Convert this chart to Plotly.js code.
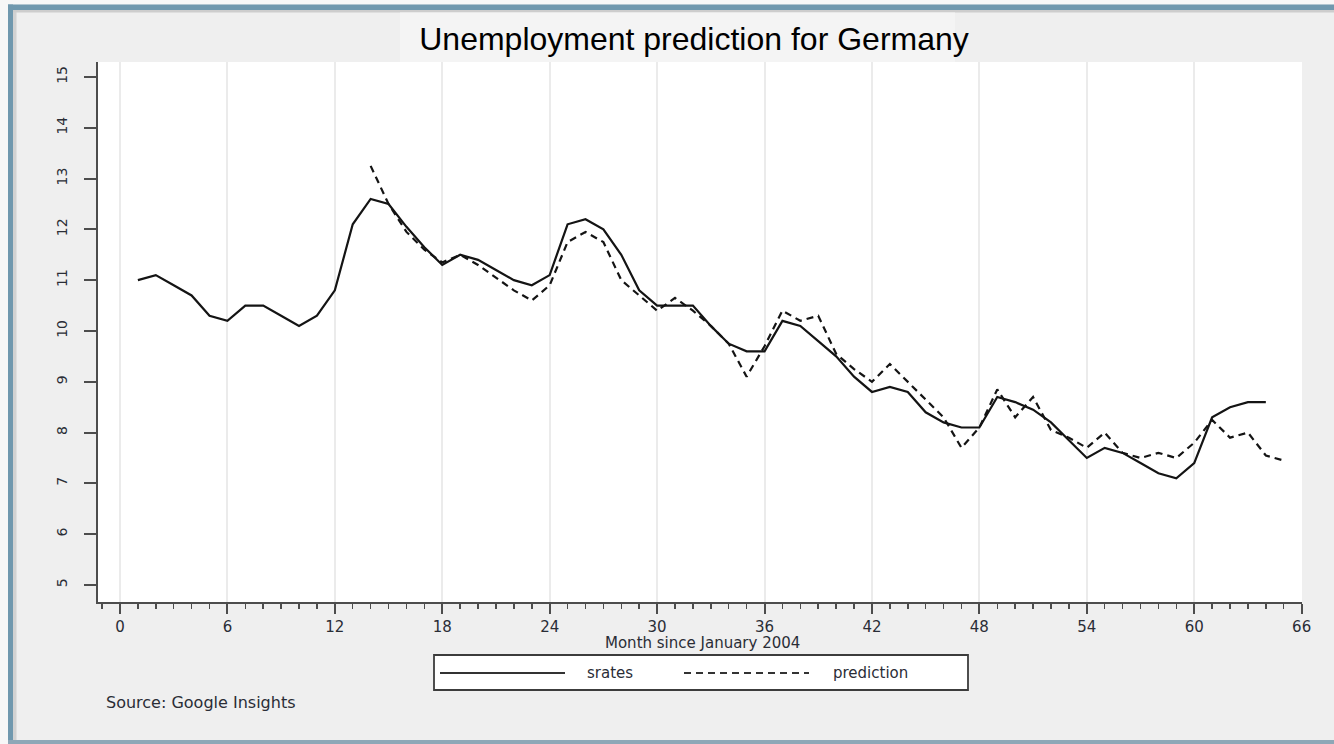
<!DOCTYPE html>
<html>
<head>
<meta charset="utf-8">
<script src="https://cdn.plot.ly/plotly-3.0.1.min.js"></script>
<style>
  html, body { margin: 0; padding: 0; background: #efefef; }
  #chart { width: 1334px; height: 744px; }
</style>
</head>
<body>
<div id="chart"></div>
<script>
// Monthly unemployment rate (srates) and model prediction, months since January 2004
const srateMonths = [1, 2, 3, 4, 5, 6, 7, 8, 9, 10, 11, 12, 13, 14, 15, 16, 17, 18, 19, 20,
  21, 22, 23, 24, 25, 26, 27, 28, 29, 30, 31, 32, 33, 34, 35, 36, 37, 38, 39, 40,
  41, 42, 43, 44, 45, 46, 47, 48, 49, 50, 51, 52, 53, 54, 55, 56, 57, 58, 59, 60,
  61, 62, 63, 64];
const srates = [11.0, 11.1, 10.9, 10.7, 10.3, 10.2, 10.5, 10.5, 10.3, 10.1, 10.3, 10.8, 12.1, 12.6, 12.5, 12.05, 11.65, 11.3, 11.5, 11.4,
  11.2, 11.0, 10.9, 11.1, 12.1, 12.2, 12.0, 11.5, 10.8, 10.5, 10.5, 10.5, 10.1, 9.75, 9.6, 9.6, 10.2, 10.1, 9.8, 9.5,
  9.1, 8.8, 8.9, 8.8, 8.4, 8.2, 8.1, 8.1, 8.7, 8.6, 8.45, 8.2, 7.85, 7.5, 7.7, 7.6, 7.4, 7.2, 7.1, 7.4,
  8.3, 8.5, 8.6, 8.6];

const predMonths = [14, 15, 16, 17, 18, 19, 20, 21, 22, 23, 24, 25, 26, 27, 28, 29, 30, 31, 32, 33,
  34, 35, 36, 37, 38, 39, 40, 41, 42, 43, 44, 45, 46, 47, 48, 49, 50, 51, 52, 53,
  54, 55, 56, 57, 58, 59, 60, 61, 62, 63, 64, 65];
const prediction = [13.25, 12.5, 11.95, 11.6, 11.35, 11.5, 11.3, 11.05, 10.8, 10.6, 10.9, 11.75, 11.95, 11.75, 11.0, 10.7, 10.4, 10.65, 10.4, 10.1,
  9.75, 9.1, 9.7, 10.4, 10.2, 10.3, 9.55, 9.25, 9.0, 9.35, 9.0, 8.65, 8.3, 7.7, 8.1, 8.85, 8.3, 8.7, 8.05, 7.9,
  7.7, 8.0, 7.6, 7.5, 7.6, 7.5, 7.8, 8.25, 7.9, 8.0, 7.55, 7.45];

const xTicks = [0, 6, 12, 18, 24, 30, 36, 42, 48, 54, 60, 66];
const yTicks = [5, 6, 7, 8, 9, 10, 11, 12, 13, 14, 15];
const yGrid = [6, 7, 8, 9, 10, 11, 12, 13, 14];

const seriesNames = ['srates', 'prediction'];
const titleText = 'Unemployment prediction for Germany';
const xTitleText = 'Month since January 2004';
const sourceText = 'Source: Google Insights';

// page geometry (pixels) -> paper fractions
const W = 1334, H = 744;
const M = { l: 98, r: 32, t: 62, b: 142 };
const PW = W - M.l - M.r, PH = H - M.t - M.b;
const px = v => (v - M.l) / PW;
const py = v => (H - M.b - v) / PH;

const ink = '#141414';
const axisCol = '#4d4d4d';
const gridCol = '#ebebeb';
const textCol = '#2a2d36';
const dashPattern = '7px,5px';
const labelFont = { family: 'DejaVu Sans, Verdana, sans-serif', size: 15, color: textCol };

const traces = [
  {
    x: srateMonths, y: srates, type: 'scatter', mode: 'lines', name: seriesNames[0],
    line: { color: ink, width: 2.2 }, hoverinfo: 'x+y'
  },
  {
    x: predMonths, y: prediction, type: 'scatter', mode: 'lines', name: seriesNames[1],
    line: { color: ink, width: 2.2, dash: dashPattern }, hoverinfo: 'x+y'
  }
];

const xRange = [-1.228, 66.02];
const yRange = [4.665, 15.295];

const rectPx = (x0, y0, x1, y1, fill, extra) => Object.assign({
  type: 'rect', xref: 'paper', yref: 'paper',
  x0: px(x0), x1: px(x1), y0: py(y1), y1: py(y0),
  fillcolor: fill, line: { width: 0 }, layer: 'below'
}, extra || {});

const shapes = [
  // window frame
  rectPx(0, 0, 8, H, '#f7f7f7'),
  rectPx(8, 4, 13, H, '#7098ae'),
  rectPx(13, 10, 16.5, H, '#d2d2d2'),
  rectPx(0, 0, W, 4.5, '#f7f7f7'),
  rectPx(8, 4.5, W, 10, '#7098ae'),
  rectPx(13, 10, W, 12.5, '#cdcdcd'),
  rectPx(8, 740, W, H, '#8ea7b7'),
  // title plate
  rectPx(400, 12.5, 955, 62, '#f4f4f4'),
  // legend frame
  rectPx(434, 655, 968, 690, '#ffffff', { line: { color: '#3c3c3c', width: 1.8 }, layer: 'above' }),
  // legend keys
  { type: 'line', xref: 'paper', yref: 'paper', x0: px(440), x1: px(565), y0: py(673), y1: py(673),
    line: { color: '#333333', width: 2.2 } },
  { type: 'line', xref: 'paper', yref: 'paper', x0: px(684), x1: px(809), y0: py(673), y1: py(673),
    line: { color: '#333333', width: 2.2, dash: dashPattern } }
];

const annotations = [
  { text: xTitleText, xref: 'paper', yref: 'paper', x: px(702), y: py(643),
    xanchor: 'center', yanchor: 'middle', showarrow: false, font: labelFont },
  { text: seriesNames[0], xref: 'paper', yref: 'paper', x: px(585), y: py(673),
    xanchor: 'left', yanchor: 'middle', showarrow: false, font: labelFont },
  { text: seriesNames[1], xref: 'paper', yref: 'paper', x: px(831), y: py(673),
    xanchor: 'left', yanchor: 'middle', showarrow: false, font: labelFont },
  { text: sourceText, xref: 'paper', yref: 'paper', x: px(104), y: py(702),
    xanchor: 'left', yanchor: 'middle', showarrow: false,
    font: Object.assign({}, labelFont, { size: 16 }) }
];

const layout = {
  width: W, height: H,
  margin: { l: M.l, r: M.r, t: M.t, b: M.b, pad: 0 },
  paper_bgcolor: '#efefef',
  plot_bgcolor: '#ffffff',
  showlegend: false,
  title: {
    text: titleText,
    font: { family: 'Liberation Sans, Arial, sans-serif', size: 32, color: '#000000' },
    xref: 'container', yref: 'container',
    x: 694 / W, xanchor: 'center',
    y: 1 - 39 / H, yanchor: 'middle'
  },
  xaxis: {
    range: xRange, tickmode: 'array', tickvals: xTicks, ticktext: xTicks.map(String),
    showline: true, linecolor: axisCol, linewidth: 2, mirror: false,
    ticks: 'outside', ticklen: 10, tickwidth: 2, tickcolor: axisCol,
    tickfont: labelFont, ticklabelstandoff: 0,
    showgrid: true, gridcolor: gridCol, gridwidth: 2, zeroline: false,
    minor: { tickmode: 'linear', tick0: 0, dtick: 1, ticks: 'outside', ticklen: 5,
             tickwidth: 1.5, tickcolor: axisCol, showgrid: false },
    fixedrange: true
  },
  yaxis: {
    range: yRange, tickmode: 'array', tickvals: yTicks, ticktext: yTicks.map(String),
    showline: true, linecolor: axisCol, linewidth: 2,
    ticks: 'outside', ticklen: 12, tickwidth: 2, tickcolor: axisCol,
    tickangle: -90, tickfont: Object.assign({}, labelFont, { size: 14 }),
    ticklabelstandoff: 11,
    showgrid: false, zeroline: false, fixedrange: true
  },
  yaxis2: {
    overlaying: 'y', anchor: 'x', side: 'left',
    range: yRange, tickmode: 'array', tickvals: yGrid,
    showticklabels: false, ticks: '', showline: false,
    showgrid: true, gridcolor: gridCol, gridwidth: 2, zeroline: false, fixedrange: true
  },
  shapes: shapes,
  annotations: annotations
};

Plotly.newPlot('chart', traces, layout, { displayModeBar: false, staticPlot: true });
</script>
</body>
</html>
